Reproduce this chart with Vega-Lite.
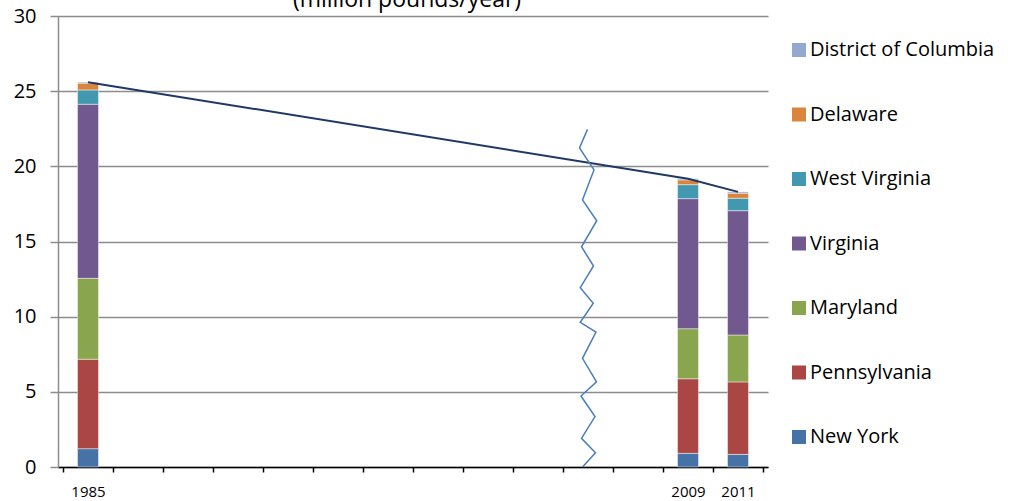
{
  "$schema": "https://vega.github.io/schema/vega-lite/v6.json",
  "width": 710,
  "height": 451,
  "autosize": "none",
  "padding": {"left": 58, "top": 16, "right": 242, "bottom": 34},
  "background": "white",
  "title": {
    "text": "(million pounds/year)",
    "font": "Open Sans",
    "fontSize": 23,
    "fontWeight": "normal",
    "color": "#000000",
    "baseline": "alphabetic",
    "offset": 0,
    "dy": 24,
    "anchor": "middle",
    "dx": -6
  },
  "config": {
    "view": {"stroke": null},
    "font": "Open Sans"
  },
  "datasets": {
    "loads": [
      {"year": 1985, "state": "New York", "value": 1.22},
      {"year": 1985, "state": "Pennsylvania", "value": 5.95},
      {"year": 1985, "state": "Maryland", "value": 5.38},
      {"year": 1985, "state": "Virginia", "value": 11.58},
      {"year": 1985, "state": "West Virginia", "value": 0.95},
      {"year": 1985, "state": "Delaware", "value": 0.45},
      {"year": 1985, "state": "District of Columbia", "value": 0.07},
      {"year": 2009, "state": "New York", "value": 0.91},
      {"year": 2009, "state": "Pennsylvania", "value": 4.96},
      {"year": 2009, "state": "Maryland", "value": 3.33},
      {"year": 2009, "state": "Virginia", "value": 8.65},
      {"year": 2009, "state": "West Virginia", "value": 0.93},
      {"year": 2009, "state": "Delaware", "value": 0.32},
      {"year": 2009, "state": "District of Columbia", "value": 0.08},
      {"year": 2011, "state": "New York", "value": 0.84},
      {"year": 2011, "state": "Pennsylvania", "value": 4.82},
      {"year": 2011, "state": "Maryland", "value": 3.12},
      {"year": 2011, "state": "Virginia", "value": 8.27},
      {"year": 2011, "state": "West Virginia", "value": 0.83},
      {"year": 2011, "state": "Delaware", "value": 0.33},
      {"year": 2011, "state": "District of Columbia", "value": 0.09}
    ],
    "stackOrder": [
      {"state": "New York", "stackRank": 1},
      {"state": "Pennsylvania", "stackRank": 2},
      {"state": "Maryland", "stackRank": 3},
      {"state": "Virginia", "stackRank": 4},
      {"state": "West Virginia", "stackRank": 5},
      {"state": "Delaware", "stackRank": 6},
      {"state": "District of Columbia", "stackRank": 7}
    ],
    "axisBreak": [
      {"x": 2004.98, "level": 22.46},
      {"x": 2004.66, "level": 21.22},
      {"x": 2005.24, "level": 19.76},
      {"x": 2004.78, "level": 17.76},
      {"x": 2005.35, "level": 16.38},
      {"x": 2004.74, "level": 14.65},
      {"x": 2005.22, "level": 13.37},
      {"x": 2004.69, "level": 11.93},
      {"x": 2005.21, "level": 10.89},
      {"x": 2004.69, "level": 9.62},
      {"x": 2005.32, "level": 8.98},
      {"x": 2004.78, "level": 7.23},
      {"x": 2005.34, "level": 5.67},
      {"x": 2004.72, "level": 4.72},
      {"x": 2005.28, "level": 3.35},
      {"x": 2004.74, "level": 1.91},
      {"x": 2005.30, "level": 0.95},
      {"x": 2004.78, "level": 0}
    ]
  },
  "layer": [
    {
      "data": {"name": "loads"},
      "transform": [
        {
          "lookup": "state",
          "from": {"data": {"name": "stackOrder"}, "key": "state", "fields": ["stackRank"]}
        }
      ],
      "mark": {"type": "bar", "width": 21, "stroke": "#ffffff", "strokeOpacity": 0.45, "strokeWidth": 1},
      "encoding": {
        "x": {
          "field": "year",
          "type": "quantitative",
          "scale": {"domain": [1984, 2012], "nice": false, "zero": false},
          "axis": {
            "orient": "bottom",
            "values": [1985, 2009, 2011],
            "format": "d",
            "ticks": false,
            "domain": false,
            "grid": false,
            "labelFontSize": 15,
            "labelColor": "#000000",
            "labelPadding": 17,
            "title": null
          }
        },
        "y": {
          "field": "value",
          "type": "quantitative",
          "stack": "zero",
          "title": null,
          "scale": {"domain": [0, 30], "nice": false},
          "axis": {
            "values": [0, 5, 10, 15, 20, 25, 30],
            "grid": true,
            "gridColor": "#8c8c8c",
            "gridWidth": 1.5,
            "domainColor": "#8c8c8c",
            "domainWidth": 1.5,
            "tickColor": "#8c8c8c",
            "tickWidth": 1.5,
            "tickSize": 8,
            "labelFontSize": 20,
            "labelColor": "#000000",
            "labelPadding": 14
          }
        },
        "order": {"field": "stackRank", "type": "quantitative", "sort": "ascending"},
        "color": {
          "field": "state",
          "type": "nominal",
          "scale": {
            "domain": ["New York", "Pennsylvania", "Maryland", "Virginia", "West Virginia", "Delaware", "District of Columbia"],
            "range": ["#4572a7", "#aa4643", "#89a54e", "#71588f", "#4198af", "#db843d", "#93a9cf"]
          },
          "legend": {
            "values": ["District of Columbia", "Delaware", "West Virginia", "Virginia", "Maryland", "Pennsylvania", "New York"],
            "orient": "none",
            "legendX": 731,
            "legendY": 24,
            "title": null,
            "symbolType": "square",
            "symbolSize": 196,
            "symbolStrokeWidth": 0,
            "labelFontSize": 20,
            "labelColor": "#000000",
            "labelLimit": 300,
            "labelOffset": 1,
            "rowPadding": 44.5
          }
        }
      }
    },
    {
      "data": {"name": "loads"},
      "mark": {"type": "line", "color": "#1f3864", "strokeWidth": 2},
      "encoding": {
        "x": {"field": "year", "type": "quantitative", "axis": null},
        "y": {"aggregate": "sum", "field": "value", "type": "quantitative", "title": null}
      }
    },
    {
      "data": {"name": "axisBreak"},
      "mark": {"type": "line", "color": "#4a7ebb", "strokeWidth": 1.5},
      "encoding": {
        "x": {
          "field": "x",
          "type": "quantitative",
          "axis": {
            "orient": "bottom",
            "values": [1984, 1986, 1988, 1990, 1992, 1994, 1996, 1998, 2000, 2002, 2004, 2006, 2008, 2010, 2012],
            "labels": false,
            "grid": false,
            "domainColor": "#000000",
            "domainWidth": 1.5,
            "tickColor": "#000000",
            "tickWidth": 1.5,
            "tickSize": 5,
            "title": null
          }
        },
        "y": {"field": "level", "type": "quantitative", "title": null},
        "order": {"field": "level", "sort": "descending"}
      }
    }
  ],
  "resolve": {"axis": {"x": "independent"}}
}
